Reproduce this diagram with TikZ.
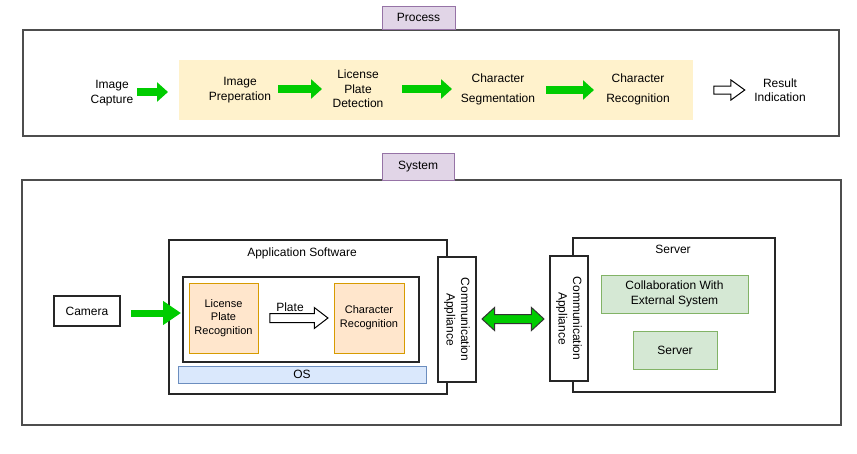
\documentclass[tikz,border=0pt]{standalone}
\usepackage{fontspec}
\setmainfont{Liberation Sans}
\usetikzlibrary{shapes.arrows,arrows.meta,calc}
\definecolor{framegray}{HTML}{4D4D4D}
\definecolor{tabline}{HTML}{9673A6}
\definecolor{tabfill}{HTML}{E1D5E7}
\definecolor{bandfill}{HTML}{FFF2CC}
\definecolor{orline}{HTML}{D79B00}
\definecolor{orfill}{HTML}{FFE6CC}
\definecolor{blline}{HTML}{6C8EBF}
\definecolor{blfill}{HTML}{DAE8FC}
\definecolor{grline}{HTML}{82B366}
\definecolor{grfill}{HTML}{D5E8D4}
\definecolor{arrgreen}{HTML}{00CC00}

\begin{document}
\begin{tikzpicture}[x=1pt,y=-1pt]
        \tikzset{every node/.style={font=\fontsize{12}{14.5}\selectfont,align=center,inner sep=0pt},
            sz/.style 2 args={minimum width=#1pt,minimum height=#2pt},
            frame/.style={draw=framegray,line width=1.4pt,fill=white},
            tab/.style={draw=tabline,fill=tabfill,line width=1pt},
            box/.style={draw=black!85,line width=1.1pt,fill=white},
            orangebox/.style={draw=orline,fill=orfill,line width=1pt,font=\fontsize{11}{13.7}\selectfont},
            bluebox/.style={draw=blline,fill=blfill,line width=1pt},
            greenbox/.style={draw=grline,fill=grfill,line width=1pt},
            wide/.style={font=\fontsize{12}{20}\selectfont},
            flow/.style={draw=arrgreen,line width=8pt,-{Triangle[length=11pt,width=19pt]}},
            hollow/.style={single arrow,draw=black,fill=white,line width=1pt,
                single arrow head indent=0pt,inner xsep=0pt},
            twoway/.style={double arrow,draw=black!80,fill=arrgreen,line width=1pt,
                double arrow head indent=0pt,inner xsep=0pt}}
        \fill[white] (0,0) rectangle (857,453);
        \useasboundingbox (0,0) rectangle (857,453);
        \node[frame,sz={816}{106}] (top) at (431,83) {};
        \node[tab,sz={73}{23}] (proc) at (418.5,17.5) {Process};
        \node[fill=bandfill,sz={514}{60}] (band) at (436,90) {};
        \node (cap) at (112,93) {Image\\Capture};
        \node (prep) at (240,90) {Image\\Preperation};
        \node (lpd) at (358,89) {License\\Plate\\Detection};
        \node[wide] (seg) at (498,89) {Character\\Segmentation};
        \node[wide] (rec) at (638,89) {Character\\Recognition};
        \node (res) at (780,90) {Result\\Indication};
        \coordinate (f1a) at (137,92);
        \coordinate (f1b) at (168,92);
        \coordinate (f2a) at (278,89);
        \coordinate (f2b) at (322,89);
        \coordinate (f3a) at (402,89);
        \coordinate (f3b) at (452,89);
        \coordinate (f4a) at (546,90);
        \coordinate (f4b) at (594,90);
        \draw[flow] (f1a) -- (f1b);
        \draw[flow] (f2a) -- (f2b);
        \draw[flow] (f3a) -- (f3b);
        \draw[flow] (f4a) -- (f4b);
        \node[hollow,minimum height=31pt,inner ysep=3.5pt,single arrow head extend=6pt,
            single arrow tip angle=72] (out) at (726.5,90) {};

        \node[frame,sz={819}{245}] (sys) at (431.5,302.5) {};
        \node[tab,sz={72}{27}] (systab) at (418,166.5) {System};
        \node[box,sz={66}{30}] (cam) at (87,311) {Camera};
        \node[box,sz={278}{154}] (app) at (308,317) {};
        \node (applbl) at (302,253) {Application Software};
        \node[box,sz={236}{85}] (inner) at (301,319.5) {};
        \node[orangebox,sz={69}{70}] (lpr) at (223.5,318) {License\\Plate\\Recognition};
        \node[orangebox,sz={70}{70}] (chr) at (369,318) {Character\\Recognition};
        \node (plate) at (290,307) {Plate};
        \node[hollow,minimum height=58pt,inner ysep=4pt,single arrow head extend=6pt,
            single arrow tip angle=75] (pa) at ($(lpr.east)!0.5!(chr.west)$) {};
        \node[bluebox,sz={248}{17}] (os) at (302,374.5) {OS};
        \coordinate (c1) at (131,313);
        \coordinate (c2) at (181,313);
        \draw[draw=arrgreen,line width=7pt,-{Triangle[length=18pt,width=23pt]}] (c1) -- (c2);
        \node[box,rotate=-90,sz={125}{38}] (commL) at (457,319.5) {Communication\\Appliance};
        \node[box,sz={202}{154}] (srvbox) at (674,315) {};
        \node (srvlbl) at (673,249) {Server};
        \node[box,rotate=-90,sz={125}{38}] (commR) at (569,318.5) {Communication\\Appliance};
        \node[greenbox,sz={147}{38}] (collab) at (674.5,294) {Collaboration With\\External System};
        \node[greenbox,sz={84}{38}] (srv) at (675,350) {Server};
        \node[twoway,minimum height=62pt,inner ysep=4pt,double arrow head extend=7pt,
            double arrow tip angle=85] (link) at ($(commL.south)!0.5!(commR.north)$) {};
    \end{tikzpicture}
\end{document}
